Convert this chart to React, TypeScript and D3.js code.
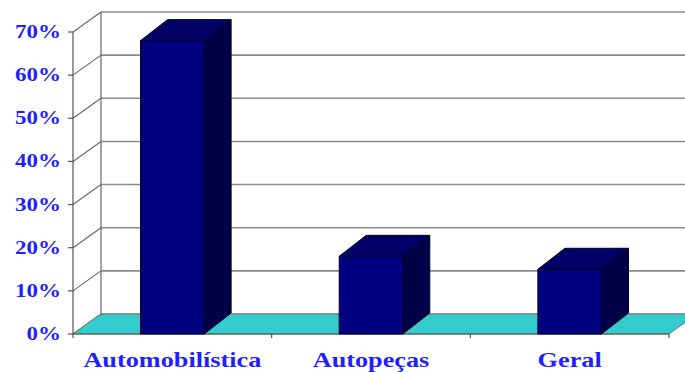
import React from "react";
import * as d3 from "d3";

const categories = ["Automobilística", "Autopeças", "Geral"];
const values = [0.68, 0.18, 0.15];
const yTickValues = [0, 0.1, 0.2, 0.3, 0.4, 0.5, 0.6, 0.7];

const W = 685;
const H = 372;

// 3D projection offsets (back plane relative to front plane)
const DX = 28;
const DY = -20;
const BAR_DX = 27;
const BAR_DY = -21;

const TEXT_BLUE = "#1f1fff";
const FONT = "'Liberation Serif', 'Times New Roman', serif";

export default function App() {
  const y = d3.scaleLinear().domain([0, 0.7]).range([334, 32]);
  const x = d3
    .scaleBand<string>()
    .domain(categories)
    .range([73, 669])
    .paddingInner(0.68)
    .paddingOuter(0.34);
  const step = x.step();
  const x0 = 73;
  const x1 = 669;
  const y0 = y(0);
  const pct = d3.format(".0%");

  const floor = [
    [x0, y0],
    [x1, y0],
    [x1 + DX, y0 + DY],
    [x0 + DX, y0 + DY],
  ];

  return (
    <svg
      width={W}
      height={H}
      style={{ position: "absolute", left: 0, top: 0, background: "#fff" }}
    >
      {/* back wall grid */}
      {yTickValues.map((t) => (
        <line
          key={"g" + t}
          x1={x0 + DX}
          x2={W + 20}
          y1={y(t) + DY}
          y2={y(t) + DY}
          stroke="#8a8a8a"
          strokeWidth={1.6}
        />
      ))}
      <line
        x1={x0 + DX}
        x2={x0 + DX}
        y1={y(0.7) + DY}
        y2={y0 + DY}
        stroke="#666"
        strokeWidth={1.2}
      />
      {/* side wall grid */}
      {yTickValues.map((t) => (
        <line
          key={"s" + t}
          x1={x0}
          y1={y(t)}
          x2={x0 + DX}
          y2={y(t) + DY}
          stroke="#666"
          strokeWidth={1.1}
        />
      ))}
      {/* floor */}
      <polygon
        points={floor.map((p) => p.join(",")).join(" ")}
        fill="#33cccc"
        stroke="#777"
        strokeWidth={1}
      />
      {/* value axis */}
      <line x1={x0} x2={x0} y1={y(0.7)} y2={y0} stroke="#555" strokeWidth={1.2} />
      {yTickValues.map((t) => (
        <line
          key={"t" + t}
          x1={x0 - 5}
          x2={x0}
          y1={y(t)}
          y2={y(t)}
          stroke="#555"
          strokeWidth={1.2}
        />
      ))}
      {/* category axis */}
      <line x1={x0} x2={x1} y1={y0} y2={y0} stroke="#555" strokeWidth={1.2} />
      {d3.range(categories.length + 1).map((i) => (
        <line
          key={"c" + i}
          x1={x0 + i * step}
          x2={x0 + i * step}
          y1={y0}
          y2={y0 + 4}
          stroke="#555"
          strokeWidth={1.2}
        />
      ))}
      {/* bars */}
      {categories.map((c, i) => {
        const bx = x(c) as number;
        const bw = x.bandwidth();
        const top = y(values[i]);
        const front = [
          [bx, top],
          [bx + bw, top],
          [bx + bw, y0],
          [bx, y0],
        ];
        const side = [
          [bx + bw, top],
          [bx + bw + BAR_DX, top + BAR_DY],
          [bx + bw + BAR_DX, y0 + BAR_DY],
          [bx + bw, y0],
        ];
        const lid = [
          [bx, top],
          [bx + BAR_DX, top + BAR_DY],
          [bx + bw + BAR_DX, top + BAR_DY],
          [bx + bw, top],
        ];
        const pts = (a: number[][]) => a.map((p) => p.join(",")).join(" ");
        return (
          <g key={c} stroke="#000022" strokeWidth={1} strokeLinejoin="round">
            <polygon points={pts(side)} fill="#000048" />
            <polygon points={pts(lid)} fill="#000066" />
            <polygon points={pts(front)} fill="#000080" />
          </g>
        );
      })}
      {/* value labels */}
      {yTickValues.map((t) => (
        <g key={"l" + t} transform={`translate(61,${y(t) + 6}) scale(1.28,1)`}>
          <text
            textAnchor="end"
            fontFamily={FONT}
            fontWeight="bold"
            fontSize={18}
            fill={TEXT_BLUE}
          >
            {pct(t)}
          </text>
        </g>
      ))}
      {/* category labels */}
      {categories.map((c) => (
        <g
          key={"cl" + c}
          transform={`translate(${(x(c) as number) + x.bandwidth() / 2},367) scale(1.25,1)`}
        >
          <text
            textAnchor="middle"
            fontFamily={FONT}
            fontWeight="bold"
            fontSize={21}
            fill={TEXT_BLUE}
          >
            {c}
          </text>
        </g>
      ))}
    </svg>
  );
}
